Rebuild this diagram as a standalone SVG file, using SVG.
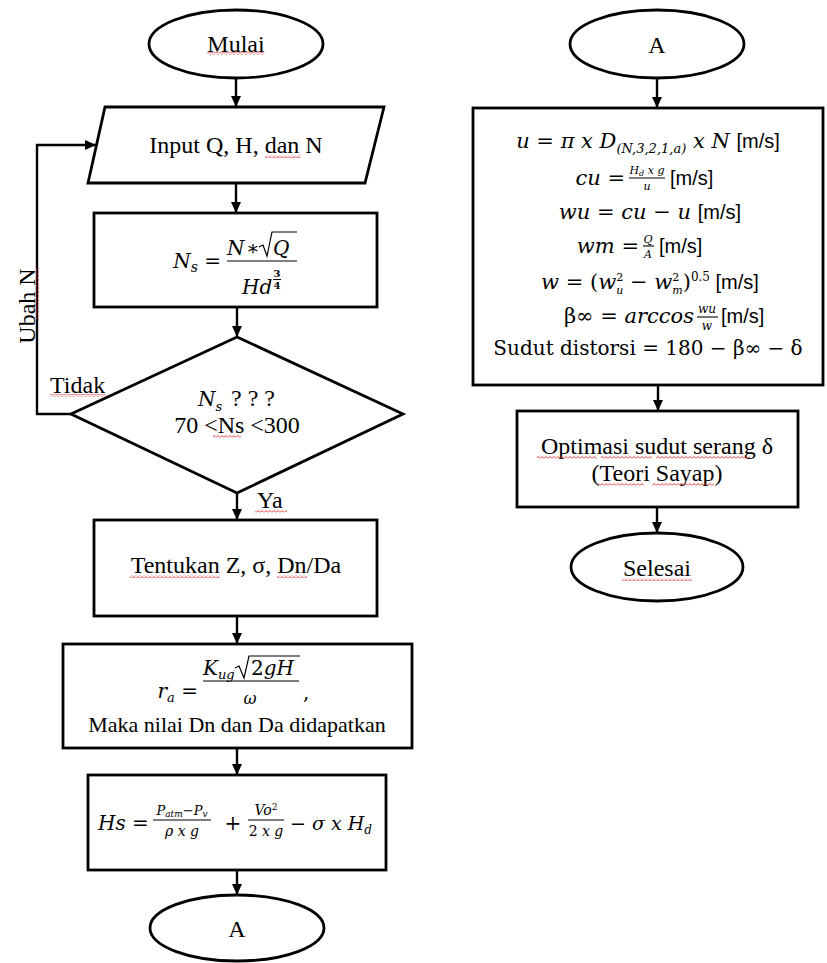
<svg xmlns="http://www.w3.org/2000/svg" width="827" height="963" viewBox="0 0 827 963">
<style>
.s{fill:#fff;stroke:#000;stroke-width:2.8}
.t{font-family:"Liberation Serif","Times New Roman",serif;font-size:24px;fill:#000}
.m{font-family:"DejaVu Serif","Liberation Serif",serif;font-size:20px;font-style:italic;fill:#000}
.u{font-family:"DejaVu Serif","Liberation Serif",serif;font-size:20px;fill:#000}
.ms{font-family:"Liberation Sans",Arial,sans-serif;font-size:20px;font-style:normal;fill:#000}
.c{fill:none;stroke:#000;stroke-width:2.4}
.fl{stroke:#000;stroke-width:1.1}
.rad{fill:none;stroke:#000;stroke-width:1.2}
.sq{fill:url(#wave)}
</style>
<defs>
<marker id="ah" markerUnits="userSpaceOnUse" markerWidth="11" markerHeight="11" refX="11" refY="5.5" orient="auto">
<path d="M0,0.5 L11,5.5 L0,10.5 z" fill="#000"/>
</marker>
<pattern id="wave" patternUnits="userSpaceOnUse" width="4" height="3">
<path d="M0,2.5 L2,0.5 L4,2.5" fill="none" stroke="#e02020" stroke-width="0.9"/>
</pattern>
</defs>

<g id="connectors">
<line class="c" x1="236" y1="78" x2="236" y2="107" marker-end="url(#ah)"/>
<line class="c" x1="236" y1="183" x2="236" y2="213" marker-end="url(#ah)"/>
<line class="c" x1="237" y1="307" x2="237" y2="337" marker-end="url(#ah)"/>
<line class="c" x1="237" y1="493" x2="237" y2="520" marker-end="url(#ah)"/>
<line class="c" x1="237" y1="616" x2="237" y2="644" marker-end="url(#ah)"/>
<line class="c" x1="237" y1="748" x2="237" y2="775" marker-end="url(#ah)"/>
<line class="c" x1="237" y1="870" x2="237" y2="895" marker-end="url(#ah)"/>
<polyline class="c" points="71,414 37,414 37,145 96,145" marker-end="url(#ah)"/>
<line class="c" x1="657" y1="78" x2="657" y2="108" marker-end="url(#ah)"/>
<line class="c" x1="658" y1="385" x2="658" y2="411" marker-end="url(#ah)"/>
<line class="c" x1="657" y1="507" x2="657" y2="533" marker-end="url(#ah)"/>
<text class="t" x="50" y="393">Tidak</text>
<rect class="sq" x="50" y="394" width="56" height="3"/>
<text class="t" x="257" y="508">Ya</text>
<rect class="sq" x="255" y="510" width="32" height="3"/>
<g transform="translate(35,306) rotate(-90)">
<text class="t" x="0" y="0" text-anchor="middle">Ubah N</text>
<rect class="sq" x="-14" y="1" width="52" height="3"/>
</g>
</g>

<g id="mulai">
<ellipse class="s" cx="236" cy="44" rx="87" ry="34"/>
<text class="t" x="236" y="52" text-anchor="middle">Mulai</text>
<rect class="sq" x="207" y="52" width="57" height="3"/>
</g>

<g id="input">
<polygon class="s" points="105,107 384,107 365,183 88,183"/>
<text class="t" x="236" y="153" text-anchor="middle">Input Q, H, dan N</text>
<rect class="sq" x="265" y="155" width="36" height="3"/>
</g>

<g id="ns-formula">
<rect class="s" x="94" y="213" width="283" height="94"/>
<text class="m" x="221" y="268" text-anchor="end">N<tspan style="font-size:14px" dy="4">s</tspan><tspan dy="-4" font-style="normal"> =</tspan></text>
<line class="fl" x1="227" y1="261" x2="297" y2="261"/>
<text class="m" x="227" y="255">N</text>
<text class="u" x="253" y="255" text-anchor="middle">∗</text>
<path class="rad" d="M259,247 L263,245 L267,256 L272,232 L297,232"/>
<text class="m" x="273" y="255">Q</text>
<text class="m" x="242" y="294">Hd</text>
<text class="u" x="277" y="277" style="font-size:10px;font-weight:bold" text-anchor="middle">3</text>
<line x1="273" y1="279.5" x2="281" y2="279.5" stroke="#000" stroke-width="1"/>
<text class="u" x="277" y="289" style="font-size:10px;font-weight:bold" text-anchor="middle">4</text>
</g>

<g id="decision">
<polygon class="s" points="237,337 403,414 237,493 71,414"/>
<text class="m" x="198" y="406">N<tspan style="font-size:13px" dy="5">s</tspan></text>
<text class="t" x="231" y="406">? ? ?</text>
<text class="t" x="237" y="433" text-anchor="middle">70 &lt;Ns &lt;300</text>
<rect class="sq" x="213" y="435" width="28" height="3"/>
</g>

<g id="tentukan">
<rect class="s" x="94" y="520" width="283" height="96"/>
<text class="t" x="236" y="573" text-anchor="middle">Tentukan Z, σ, Dn/Da</text>
<rect class="sq" x="130" y="575" width="90" height="3"/>
<rect class="sq" x="277" y="575" width="30" height="3"/>
</g>

<g id="ra-formula">
<rect class="s" x="63" y="644" width="349" height="104"/>
<text class="m" x="198" y="698" text-anchor="end">r<tspan style="font-size:13px" dy="4">a</tspan><tspan dy="-4" font-style="normal"> =</tspan></text>
<line class="fl" x1="203" y1="681" x2="299" y2="681"/>
<text class="m" x="203" y="675">K<tspan style="font-size:13px" dy="4">ug</tspan></text>
<path class="rad" d="M235,668 L239,666 L244,678 L249,656 L300,656"/>
<text class="m" x="251" y="675"><tspan font-style="normal">2</tspan>gH</text>
<text class="m" x="250" y="704" style="font-size:16px" text-anchor="middle">ω</text>
<text class="u" x="303" y="699">,</text>
<text class="t" x="237" y="732" text-anchor="middle" style="font-size:22px">Maka nilai Dn dan Da didapatkan</text>
</g>

<g id="hs-formula">
<rect class="s" x="88" y="775" width="298" height="95"/>
<text class="m" x="98" y="830">Hs<tspan font-style="normal"> =</tspan></text>
<line class="fl" x1="153" y1="820" x2="211" y2="820"/>
<text class="m" x="182" y="815" style="font-size:13px" text-anchor="middle">P<tspan style="font-size:9px" dy="2">atm</tspan><tspan dy="-2" font-style="normal">−</tspan>P<tspan style="font-size:9px" dy="2">v</tspan></text>
<text class="m" x="182" y="836" style="font-size:14px" text-anchor="middle">ρ x g</text>
<text class="u" x="233" y="830" text-anchor="middle">+</text>
<line class="fl" x1="248" y1="820" x2="284" y2="820"/>
<text class="m" x="266" y="815" style="font-size:14px" text-anchor="middle">Vo<tspan style="font-size:9px" dy="-5" font-style="normal">2</tspan></text>
<text class="m" x="266" y="836" style="font-size:14px" text-anchor="middle"><tspan font-style="normal">2</tspan> x g</text>
<text class="m" x="290" y="830" style="font-size:19px"><tspan font-style="normal">−</tspan> σ x H<tspan style="font-size:12px" dy="4">d</tspan></text>
</g>

<g id="a-bottom">
<ellipse class="s" cx="237" cy="928" rx="87" ry="33"/>
<text class="t" x="237" y="937" text-anchor="middle">A</text>
</g>

<g id="a-top">
<ellipse class="s" cx="657" cy="44" rx="87" ry="34"/>
<text class="t" x="657" y="53" text-anchor="middle">A</text>
</g>

<g id="velocity">
<rect class="s" x="473" y="108" width="350" height="277"/>
<text class="m" x="648" y="148" text-anchor="middle" style="font-size:21px">u <tspan font-style="normal">=</tspan> π x D<tspan style="font-size:13px" dy="5">(N,3,2,1,a)</tspan><tspan dy="-5"> x N </tspan><tspan class="ms">[m/s]</tspan></text>

<text class="m" x="625" y="185" text-anchor="end" style="font-size:21px">cu <tspan font-style="normal">=</tspan></text>
<line class="fl" x1="629" y1="178" x2="665" y2="178"/>
<text class="m" x="647" y="174" style="font-size:11px" text-anchor="middle">H<tspan style="font-size:8px" dy="2">d</tspan><tspan dy="-2"> x g</tspan></text>
<text class="m" x="647" y="190" style="font-size:11px" text-anchor="middle">u</text>
<text class="ms" x="670" y="185">[m/s]</text>

<text class="m" x="650" y="219" text-anchor="middle" style="font-size:21px">wu <tspan font-style="normal">=</tspan> cu <tspan font-style="normal">−</tspan> u  <tspan class="ms">[m/s]</tspan></text>

<text class="m" x="639" y="253" text-anchor="end" style="font-size:21px">wm <tspan font-style="normal">=</tspan></text>
<line class="fl" x1="643" y1="246" x2="654" y2="246"/>
<text class="m" x="648" y="243" style="font-size:11px" text-anchor="middle">Q</text>
<text class="m" x="648" y="258" style="font-size:11px" text-anchor="middle">A</text>
<text class="ms" x="659" y="253">[m/s]</text>

<text class="m" x="650" y="289" text-anchor="middle" style="font-size:21px">w <tspan font-style="normal">=  (</tspan>w<tspan style="font-size:11px" dy="-8" font-style="normal">2</tspan><tspan style="font-size:11px" dx="-7" dy="13">u</tspan><tspan dy="-5" font-style="normal"> − </tspan>w<tspan style="font-size:11px" dy="-8" font-style="normal">2</tspan><tspan style="font-size:11px" dx="-7" dy="13">m</tspan><tspan dy="-5" font-style="normal">)</tspan><tspan style="font-size:12px" dy="-8" font-style="normal">0.5</tspan><tspan dy="8" class="ms"> [m/s]</tspan></text>

<text class="m" x="694" y="323" text-anchor="end" style="font-size:21px"><tspan font-style="normal">β∞ =</tspan> arccos</text>
<line class="fl" x1="697" y1="317" x2="718" y2="317"/>
<text class="m" x="707" y="313" style="font-size:12px" text-anchor="middle">wu</text>
<text class="m" x="707" y="330" style="font-size:12px" text-anchor="middle">w</text>
<text class="ms" x="721" y="323">[m/s]</text>

<text class="u" x="648" y="355" text-anchor="middle">Sudut distorsi = 180 − β∞ − δ</text>
</g>

<g id="optimasi">
<rect class="s" x="517" y="411" width="281" height="96"/>
<text class="t" x="657" y="454" text-anchor="middle">Optimasi sudut serang  δ</text>
<rect class="sq" x="537" y="456" width="60" height="3"/>
<rect class="sq" x="601" y="456" width="51" height="3"/>
<rect class="sq" x="656" y="456" width="94" height="3"/>
<text class="t" x="657" y="481" text-anchor="middle">(Teori Sayap)</text>
<rect class="sq" x="598" y="483" width="46" height="3"/>
<rect class="sq" x="652" y="483" width="62" height="3"/>
</g>

<g id="selesai">
<ellipse class="s" cx="657" cy="567" rx="86" ry="34"/>
<text class="t" x="657" y="576" text-anchor="middle">Selesai</text>
<rect class="sq" x="622" y="578" width="70" height="3"/>
</g>
</svg>
